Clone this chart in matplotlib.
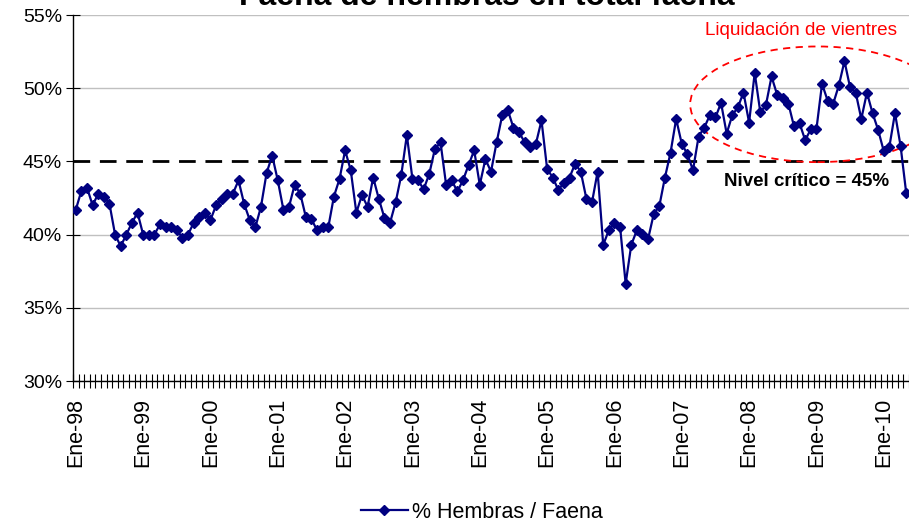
import matplotlib
matplotlib.use('Agg')
import matplotlib.pyplot as plt
from matplotlib.patches import Ellipse
from matplotlib.ticker import FuncFormatter, FixedLocator

plt.rcParams['font.family'] = ['Liberation Sans', 'DejaVu Sans']

# % hembras sobre faena total, mensual Ene-98 .. May-10
hembras = [
    41.7, 43.0, 43.2, 42.0, 42.8, 42.6, 42.1, 40.0, 39.2, 40.0, 40.8, 41.5,
    40.0, 40.0, 40.0, 40.7, 40.5, 40.5, 40.3, 39.8, 40.0, 40.8, 41.2, 41.5,
    41.0, 42.0, 42.45, 42.8, 42.8, 43.7, 42.1, 41.0, 40.5, 41.9, 44.2, 45.4,
    43.7, 41.7, 41.9, 43.4, 42.8, 41.2, 41.05, 40.3, 40.5, 40.5, 42.6, 43.8,
    45.75, 44.4, 41.5, 42.7, 41.9, 43.9, 42.45, 41.15, 40.8, 42.2, 44.05, 46.8,
    43.8, 43.7, 43.1, 44.15, 45.85, 46.3, 43.4, 43.7, 42.95, 43.7, 44.75, 45.75,
    43.4, 45.15, 44.3, 46.3, 48.15, 48.5, 47.3, 47.0, 46.3, 46.0, 46.2, 47.8,
    44.5, 43.9, 43.05, 43.55, 43.9, 44.85, 44.3, 42.45, 42.2, 44.3, 39.3, 40.3,
    40.8, 40.55, 36.65, 39.3, 40.3, 40.05, 39.7, 41.4, 41.95, 43.9, 45.6, 47.9,
    46.2, 45.5, 44.4, 46.7, 47.3, 48.15, 48.0, 49.0, 46.9, 48.15, 48.7, 49.7,
    47.65, 51.05, 48.35, 48.85, 50.8, 49.55, 49.3, 48.95, 47.4, 47.6, 46.45, 47.2,
    47.2, 50.3, 49.15, 48.95, 50.2, 51.85, 50.05, 49.7, 47.9, 49.7, 48.3, 47.15,
    45.7, 46.0, 48.3, 46.05, 42.85,
]
tick_labels = ['Ene-98', 'Ene-99', 'Ene-00', 'Ene-01', 'Ene-02', 'Ene-03', 'Ene-04',
               'Ene-05', 'Ene-06', 'Ene-07', 'Ene-08', 'Ene-09', 'Ene-10']
yticks = [30, 35, 40, 45, 50, 55]
nivel_critico = 45

n = len(hembras)
xs = list(range(n))

fig = plt.figure(figsize=(9.09, 5.25), dpi=100)
ax = fig.add_axes([73/909, 1 - 381/525, 1 - 73/909, (381 - 15)/525])

for y in yticks:
    if y != nivel_critico:
        ax.axhline(y, color='#c0c0c0', lw=1.0, zorder=0)

ax.axhline(nivel_critico, color='black', lw=2.0, dashes=(6, 3.5), zorder=1)

ax.plot(xs, hembras, color='#000080', lw=1.6, marker='D', markersize=4.8,
        label='% Hembras / Faena', zorder=3)

ax.set_xlim(-0.5, n - 0.5)
ax.set_ylim(30, 55)

# ticks between categories, labels at each January
ax.xaxis.set_major_locator(FixedLocator([12 * i for i in range(len(tick_labels))]))
ax.set_xticklabels(tick_labels, rotation=90, fontsize=15.5)
ax.tick_params(axis='x', which='major', length=0, pad=12)
ax.xaxis.set_minor_locator(FixedLocator([i - 0.5 for i in range(n + 1)]))
ax.tick_params(axis='x', which='minor', direction='inout', length=10, width=0.8)

ax.set_yticks(yticks)
ax.yaxis.set_major_formatter(FuncFormatter(lambda v, p: '%d%%' % v))
ax.tick_params(axis='y', direction='inout', length=10, width=0.8, labelsize=14, pad=3)

for s in ['top', 'right']:
    ax.spines[s].set_visible(False)
for s in ['left', 'bottom']:
    ax.spines[s].set_linewidth(1.0)

# zona de liquidacion
ell = Ellipse((132.2, 48.9), 45.4, 7.9, fill=False, edgecolor='red', lw=1.3,
              linestyle=(0, (4, 3)), clip_on=False, zorder=2)
ax.add_patch(ell)
ax.text(129.2, 53.95, 'Liquidación de vientres', color='red', fontsize=13.6,
        ha='center', va='center')
ax.text(130.3, 43.6, 'Nivel crítico = 45%', color='black', fontsize=13.5,
        fontweight='bold', ha='center', va='center')

fig.text(487/909, 1 - 5/525, 'Faena de hembras en total faena', fontsize=23,
         fontweight='bold', ha='center', va='baseline')

fig.legend(loc='center', bbox_to_anchor=(482/909, 1 - 512/525), frameon=False,
           fontsize=15.5, handlelength=2.2, handletextpad=0.2)

fig.savefig('out.png', dpi=100)
